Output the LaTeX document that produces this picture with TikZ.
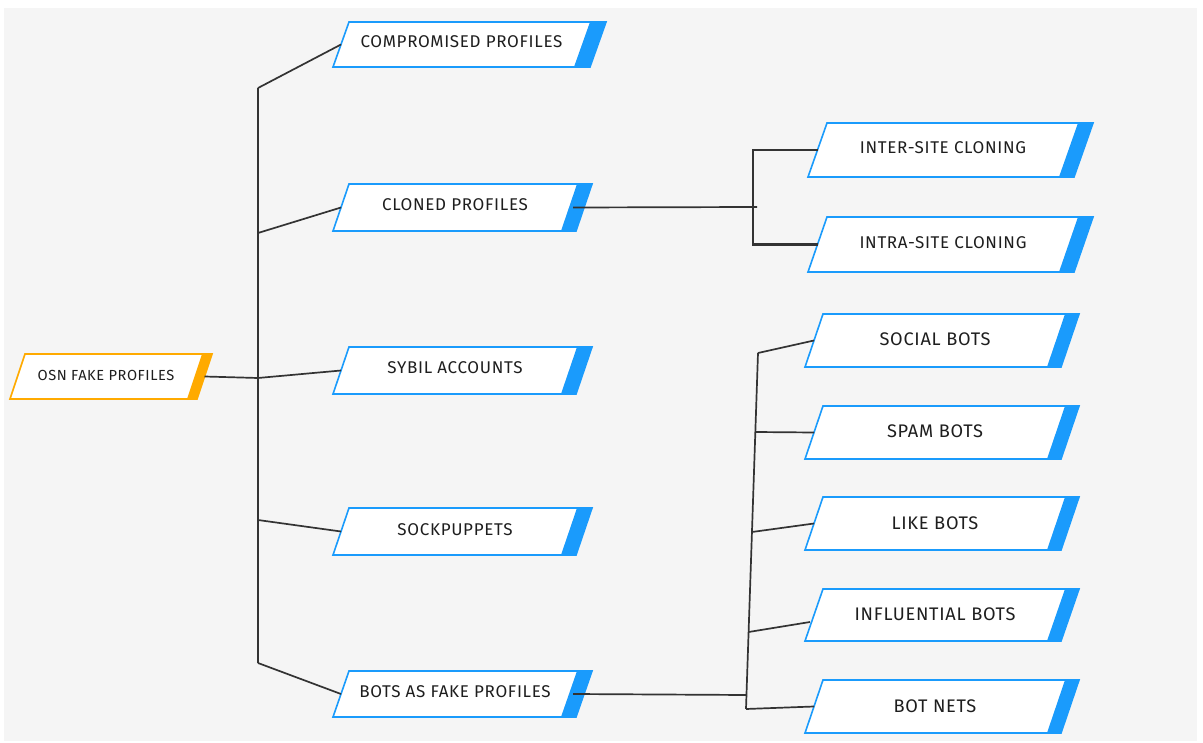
\documentclass[tikz,border=0pt]{standalone}
\usepackage{fontspec}
\setmainfont{Fira Sans}[LetterSpace=4]
\definecolor{bl}{HTML}{1A9BFC}
\definecolor{og}{HTML}{FFAA00}
\definecolor{ln}{HTML}{333333}
\definecolor{bg}{HTML}{F5F5F5}
\definecolor{tx}{HTML}{1E1E1E}
\tikzset{
  boxline/.style={line width=1.6pt, line join=miter},
  conn/.style={ln, line width=1.7pt},
  bracket/.style={ln, line width=2.8pt},
  lbl/.style={text=tx, inner sep=0pt, anchor=base},
}
% #1 name, #2 x0 (bottom-left), #3 top y, #4 bottom y, #5 slant, #6 white width, #7 strip width, #8 colour, #9 text
\newcommand\slantbox[9]{%
  \fill[white] (#2,#4) -- (#2+#5,#3) -- (#2+#5+#6,#3) -- (#2+#6,#4) -- cycle;
  \fill[#8] (#2+#5+#6,#3) -- (#2+#5+#6+#7,#3) -- (#2+#6+#7,#4) -- (#2+#6,#4) -- cycle;
  \draw[#8,boxline] (#2,#4) -- (#2+#5,#3) -- (#2+#5+#6+#7,#3) -- (#2+#6+#7,#4) -- cycle;
  \node[lbl] (#1) at ({#2+(#5+#6)/2},{(#3+#4)/2+\txoff}) {#9};
  \coordinate (#1-w) at ({#2+#5/2},{(#3+#4)/2});
  \coordinate (#1-e) at ({#2+#6+#5/2+4},{(#3+#4)/2});
  \coordinate (#1-ee) at ({#2+#6+#5/2+#7},{(#3+#4)/2});
}
\begin{document}
\begin{tikzpicture}[x=1pt,y=-1pt]
\useasboundingbox (0,0) rectangle (1203,743);
\fill[bg] (4,8) rectangle (1197,741);

% root
\begin{scope}[lbl/.append style={font=\fontsize{14.6}{15}\selectfont}]
\def\txoff{4.5}
\slantbox{osn}{10}{354}{399}{15}{177}{10}{og}{OSN FAKE PROFILES}
\end{scope}

% second column
\begin{scope}[lbl/.append style={font=\fontsize{17}{18}\selectfont}]
\def\txoff{3.5}
\slantbox{comp}{333}{22}{67}{16}{241}{16}{bl}{COMPROMISED PROFILES}
\slantbox{cloned}{333}{184}{231}{16}{228}{15}{bl}{CLONED PROFILES}
\slantbox{sybil}{333}{347}{394}{16}{228}{15}{bl}{SYBIL ACCOUNTS}
\slantbox{sock}{333}{508}{555}{16}{228}{15}{bl}{SOCKPUPPETS}
\slantbox{bots}{333}{671}{717}{16}{228}{15}{bl}{BOTS AS FAKE PROFILES}
\end{scope}

% cloning
\begin{scope}[lbl/.append style={font=\fontsize{17}{18}\selectfont}]
\def\txoff{4}
\slantbox{inter}{808}{123}{177}{19}{251}{15}{bl}{INTER-SITE CLONING}
\slantbox{intra}{808}{217}{272}{19}{251}{15}{bl}{INTRA-SITE CLONING}
\end{scope}

% bots
\begin{scope}[lbl/.append style={font=\fontsize{18.2}{19}\selectfont}]
\def\txoff{5.5}
\slantbox{social}{805}{314}{367}{18}{242}{14}{bl}{SOCIAL BOTS}
\slantbox{spam}{805}{406}{459}{18}{242}{14}{bl}{SPAM BOTS}
\slantbox{like}{805}{497}{550}{18}{242}{14}{bl}{LIKE BOTS}
\slantbox{infl}{805}{589}{641}{18}{242}{14}{bl}{INFLUENTIAL BOTS}
\slantbox{botnets}{805}{680}{733}{18}{242}{14}{bl}{BOT NETS}
\end{scope}

% junction coordinates
\coordinate (j1) at (258,88);
\coordinate (j2) at (258,233);
\coordinate (j3) at (258,378);
\coordinate (j4) at (258,520);
\coordinate (j5) at (258,663);
\coordinate (cj) at (757,207);
\coordinate (cbx) at (753,200);
\coordinate (bj) at (746,695);
\coordinate (bt1) at (758,353);
\coordinate (bt2) at (755.3,432);
\coordinate (bt3) at (752,532);
\coordinate (bt4) at (748.6,632);
\coordinate (bt5) at (746,709);
\coordinate (infl-in) at (810,622);

% main tree
\draw[conn] (j1) -- (j5);
\draw[conn] (j1) -- (comp-w);
\draw[conn] (j2) -- (cloned-w);
\draw[conn] (osn-ee) -- (j3) -- (sybil-w);
\draw[conn] (j4) -- (sock-w);
\draw[conn] (j5) -- (bots-w);

% cloning
\draw[conn] (cloned-e) -- (cj);
\draw[bracket] (inter-w) -| (cbx) |- (intra-w);

% bots
\draw[conn] (bots-e) -- (bj);
\draw[conn] (bt1) -- (bt5);
\draw[conn] (bt1) -- (social-w);
\draw[conn] (bt2) -- (spam-w);
\draw[conn] (bt3) -- (like-w);
\draw[conn] (bt4) -- (infl-in);
\draw[conn] (bt5) -- (botnets-w);
\end{tikzpicture}
\end{document}
